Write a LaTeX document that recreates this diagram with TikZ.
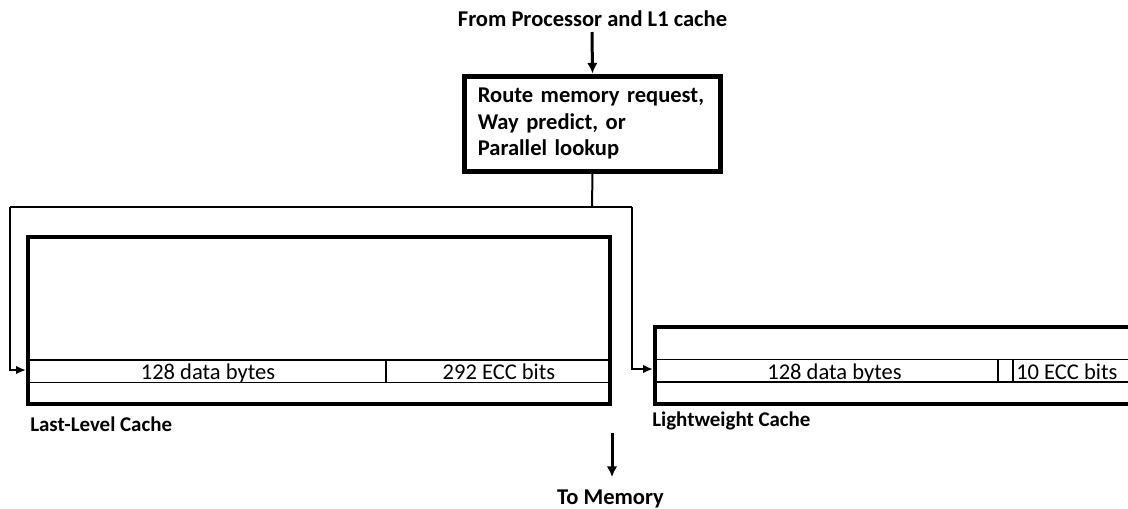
\documentclass[tikz,border=0pt]{standalone}
\usepackage{fontspec}
\setmainfont{Carlito}
\usetikzlibrary{arrows.meta}
\begin{document}
\begin{tikzpicture}[x=0.75pt,y=-0.75pt,
  bigtxt/.style={font=\fontsize{16.9}{20.2}\selectfont\bfseries, inner sep=0pt},
  lbltxt/.style={font=\fontsize{15.7}{18}\selectfont\bfseries, inner sep=0pt},
  celltxt/.style={font=\fontsize{16.9}{20.2}\selectfont, inner sep=0pt},
  routebox/.style={draw, line width=3.75pt, minimum width=192pt, minimum height=71.25pt,
     text width=172pt, inner xsep=10pt, align=left, bigtxt, inner ysep=0pt},
  cachebox/.style={draw, line width=3pt, inner sep=0pt},
  rowline/.style={line width=1.1pt},
  conn/.style={line width=1.5pt},
  conntip/.style={conn, -{Latex[length=7.5pt,width=6.5pt]}},
  bigarrow/.style={line width=2.25pt, -{Latex[length=8pt,width=8pt]}}
]
\useasboundingbox (0,0) rectangle (1128,508);
\clip (0,0) rectangle (1128,508);

% top
\node[bigtxt, anchor=base] (from) at (592.5,26) {From Processor and L1 cache};
\node[routebox] (route) at (592.5,123.5) {Route memory request,\\Way predict, or\\Parallel lookup};
\draw[bigarrow] (592,32) -- (route.north);

% caches
\node[cachebox, minimum width=436.5pt, minimum height=125.25pt] (llc) at (319,320.5) {};
\node[cachebox, minimum width=363.75pt, minimum height=57.75pt] (lwc) at (897.5,365.5) {};

% split connector
\coordinate (split) at (592,207);
\coordinate (lcorner) at (10,207);
\coordinate (rcorner) at (632,207);
\draw[conn] ([yshift=0.6pt]route.south) -- (split);
\draw[conn] (lcorner) -- (rcorner);
\draw[conntip] (lcorner) -- (10,370) -- (llc.west |- 0,370);
\draw[conntip] (rcorner) -- (632,369) -- (lwc.west |- 0,369);

% LLC rows
\draw[rowline] (28,360) -- (610,360);
\draw[rowline] (28,382.5) -- (610,382.5);
\draw[rowline] (386,360) -- (386,382.5);
\node[celltxt, anchor=base] (llcdata) at (208,379) {128 data bytes};
\node[celltxt, anchor=base] (llcecc) at (499,379) {292 ECC bits};
\node[lbltxt, anchor=base west] (llclbl) at (30,431) {Last-Level Cache};

% LW rows
\draw[rowline] (655,359.5) -- (1140,359.5);
\draw[rowline] (655,382) -- (1140,382);
\draw[rowline] (998,359.5) -- (998,382);
\draw[rowline] (1013,359.5) -- (1013,382);
\node[celltxt, anchor=base] (lwdata) at (834.5,379) {128 data bytes};
\node[celltxt, anchor=base west] (lwecc) at (1016,379) {10 ECC bits};
\node[lbltxt, anchor=base west] (lwlbl) at (652,426) {Lightweight Cache};

% to memory
\node[bigtxt, anchor=base] (mem) at (610.5,504) {To Memory};
\coordinate (memstart) at (612,433);
\draw[bigarrow] (memstart) -- (612,477);
\end{tikzpicture}
\end{document}
